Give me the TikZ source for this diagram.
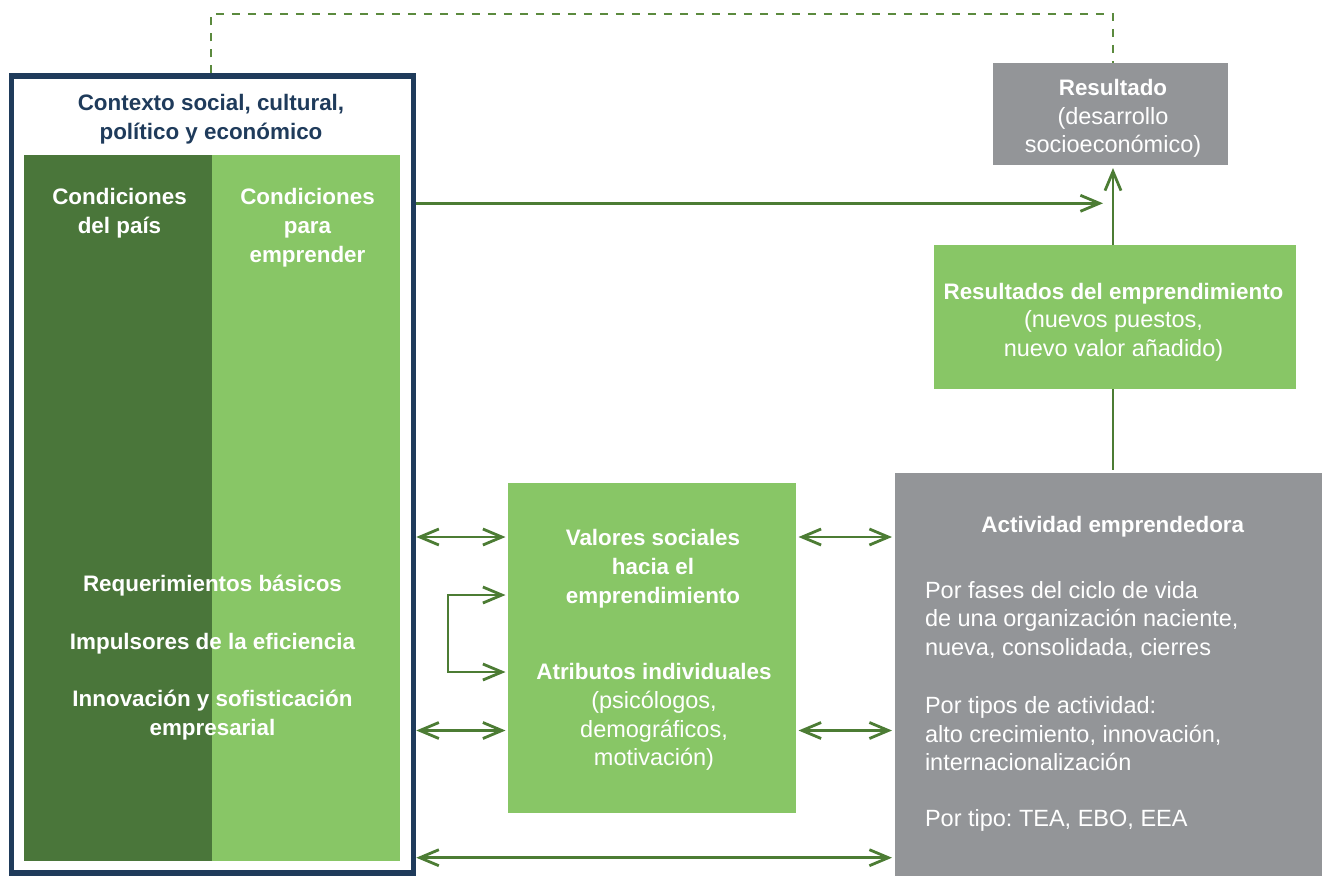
\documentclass[tikz,border=0pt]{standalone}
\usepackage{fontspec}
\setmainfont{Liberation Sans}
\usetikzlibrary{arrows.meta}
\frenchspacing
\definecolor{navy}{HTML}{1F3B5B}
\definecolor{dkgreen}{HTML}{4A763A}
\definecolor{ltgreen}{HTML}{88C666}
\definecolor{boxgray}{HTML}{939598}
\definecolor{arrgreen}{HTML}{4C7C34}
\definecolor{dashgreen}{HTML}{5B8A3E}
\newcommand\bt{\fontsize{22.4}{28.6}\selectfont\bfseries}
\newcommand\rt{\fontsize{23.5}{28.6}\selectfont\mdseries}
\begin{document}
\begin{tikzpicture}[x=1pt,y=-1pt,
  box/.style={inner sep=0pt, outer sep=0pt, draw=none},
  txt/.style={inner sep=0pt, outer sep=0pt, align=center, anchor=base, text=white, font=\bt},
  conn/.style={draw=arrgreen, line width=2.8pt},
  arr/.style={conn, -{Straight Barb[length=19pt,width=16pt]}},
  darr/.style={conn, {Straight Barb[length=19pt,width=16pt]}-{Straight Barb[length=19pt,width=16pt]}},
  dashline/.style={draw=dashgreen, line width=2.4pt, dash pattern=on 8pt off 8pt}]
\useasboundingbox (0,0) rectangle (1322,876);
% boxes
\node[box, fill=dkgreen, minimum width=188pt, minimum height=706pt] (pais) at (118,508) {};
\node[box, fill=ltgreen, minimum width=188pt, minimum height=706pt] (empr) at (306,508) {};
\node[draw=navy, line width=5.5pt, fill=none, inner sep=0pt, minimum width=402pt, minimum height=797pt] (ctx) at (212.5,474.5) {};
\node[box, fill=boxgray, minimum width=235pt, minimum height=102pt] (res) at (1110.5,114) {};
\node[box, fill=ltgreen, minimum width=362pt, minimum height=144pt] (resemp) at (1115,317) {};
\node[box, fill=ltgreen, minimum width=288pt, minimum height=330pt, outer sep=2.5pt] (mid) at (652,648) {};
\node[box, fill=boxgray, minimum width=427pt, minimum height=403pt, outer sep=3pt] (act) at (1108.5,674.5) {};
% texts (base anchor = baseline of the last line)
\node[txt, text=navy] (tctx) at (211,139.5) {Contexto social, cultural,\\ político y económico};
\node[txt] (tpais) at (119.5,233) {Condiciones\\ del país};
\node[txt] (tempr) at (307.5,262) {Condiciones\\ para\\ emprender};
\node[txt] (tpil) at (212.5,735) {Requerimientos básicos\\[29.7pt] Impulsores de la eficiencia\\[28.1pt] Innovación y sofisticación\\ empresarial};
\node[txt] (tres) at (1113,152.7) {Resultado\\ \rt (desarrollo\\ \rt socioeconómico)};
\node[txt] (tresemp) at (1113.5,356.5) {Resultados del emprendimiento\\ \rt (nuevos puestos,\\ \rt nuevo valor añadido)};
\node[txt] (tval) at (653,603) {Valores sociales\\ hacia el\\ emprendimiento};
\node[txt] (tatr) at (654,765.7) {Atributos individuales\\ \rt (psicólogos,\\ \rt demográficos,\\ \rt motivación)};
\node[txt] (tact) at (1112.8,532.7) {Actividad emprendedora};
\node[txt, align=left, anchor=base west, font=\rt] (tactb) at (925,826.7) {Por fases del ciclo de vida\\ de una organización naciente,\\ nueva, consolidada, cierres\\[29.7pt] Por tipos de actividad:\\ alto crecimiento, innovación,\\ internacionalización\\[27.4pt] Por tipo: TEA, EBO, EEA};
% coordinates
\coordinate (d1) at (211,14);
\coordinate (d2) at (1113,14);
\coordinate (h1) at (1103,203.3);
\coordinate (y1) at (0,537);
\coordinate (y2) at (0,730.5);
\coordinate (y3) at (0,857.7);
\coordinate (b1) at (0,595);
\coordinate (b2) at (0,672);
\coordinate (bx) at (448,633);
% connectors
\draw[dashline] (ctx.north -| d1) -- (d1) -- (d2) -- (d2 |- res.north);
\draw[arr] (ctx.east |- h1) -- (h1);
\draw[arr] (resemp.north -| d2) -- ([yshift=-3pt]res.south -| d2);
\draw[conn] (resemp.south -| d2) -- (act.north -| d2);
\draw[darr] (ctx.east |- y1) -- (mid.west |- y1);
\draw[darr] (ctx.east |- y2) -- (mid.west |- y2);
\draw[darr] (mid.east |- y1) -- (act.west |- y1);
\draw[darr] (mid.east |- y2) -- (act.west |- y2);
\draw[darr] (ctx.east |- y3) -- (act.west |- y3);
\draw[darr] (mid.west |- b1) -| (bx) |- (mid.west |- b2);
\end{tikzpicture}
\end{document}
